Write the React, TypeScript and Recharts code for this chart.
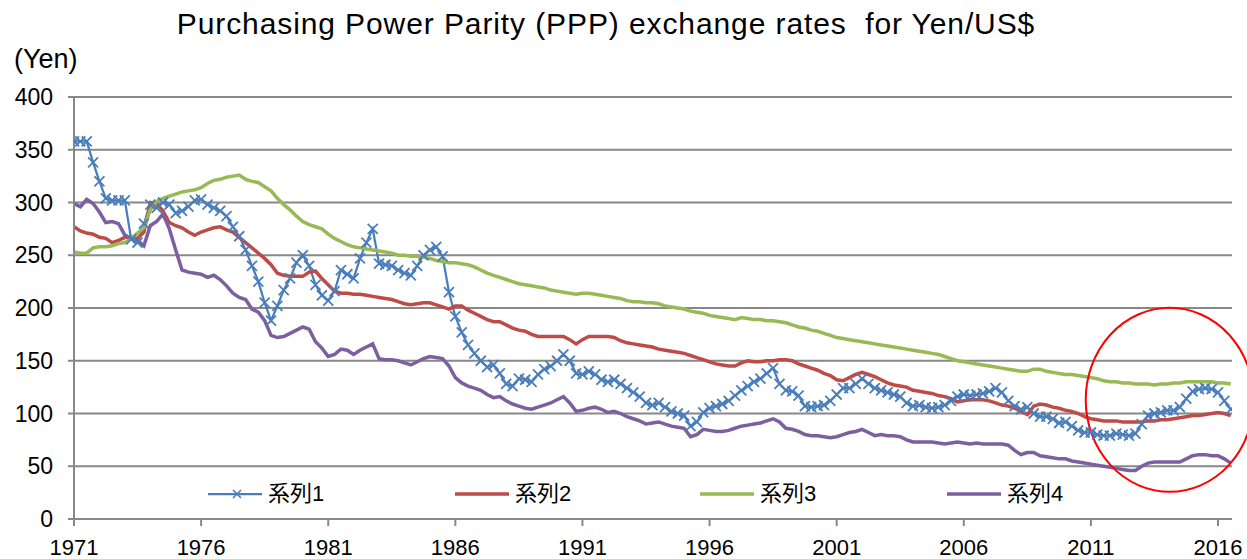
import { LineChart, Line, XAxis, YAxis, CartesianGrid, Legend, ReferenceDot } from "recharts"

const FONT = '"Liberation Sans", Arial, "Noto Sans CJK JP", sans-serif'
const COLORS = ["#4A7EBB", "#BE4B48", "#98B954", "#7D5FA0"]
const GRID = "#888888"

const START_YEAR = 1971
const seriesNames = ["系列1", "系列2", "系列3", "系列4"]
const xTicks = [1971, 1976, 1981, 1986, 1991, 1996, 2001, 2006, 2011, 2016]
const yTicks = [0, 50, 100, 150, 200, 250, 300, 350, 400]

// quarterly readings, 1971Q1 .. 2016Q3 (two years per row)
const series1 = [
  358, 358, 358, 338, 320, 304, 302, 302,
  302, 265, 262, 280, 298, 295, 300, 298,
  290, 292, 296, 302, 303, 298, 295, 292,
  287, 277, 268, 255, 240, 225, 205, 188,
  202, 217, 228, 243, 250, 240, 222, 212,
  207, 216, 236, 232, 228, 247, 262, 275,
  242, 241, 240, 236, 233, 231, 240, 250,
  255, 258, 249, 215, 192, 177, 165, 157,
  150, 144, 146, 138, 128, 126, 133, 132,
  130, 137, 142, 145, 150, 156, 150, 138,
  137, 140, 137, 132, 130, 132, 128, 124,
  120, 116, 110, 108, 110, 106, 102, 100,
  98, 88, 92, 101, 105, 107, 109, 112,
  117, 122, 126, 130, 133, 138, 143, 128,
  122, 121, 117, 107, 106, 107, 108, 112,
  118, 124, 124, 128, 133, 128, 124, 122,
  120, 118, 116, 110, 107, 108, 106, 105,
  106, 108, 112, 116, 118, 117, 118, 119,
  121, 124, 120, 112, 107, 104, 106, 100,
  97, 97, 95, 91, 92, 88, 84, 82,
  82, 80, 79, 79, 81, 80, 79, 81,
  90, 98, 100, 101, 103, 103, 106, 114,
  121, 123, 124, 123, 120, 112, 104,
]

const series2 = [
  277, 273, 271, 270, 267, 266, 262, 264,
  267, 267, 266, 272, 300, 299, 292, 281,
  278, 276, 272, 269, 272, 274, 276, 277,
  274, 272, 267, 262, 257, 252, 247, 241,
  233, 231, 230, 230, 230, 234, 235, 228,
  222, 216, 214, 214, 213, 213, 212, 211,
  210, 209, 208, 206, 204, 203, 204, 205,
  205, 203, 201, 199, 202, 202, 198, 195,
  192, 189, 187, 187, 184, 181, 179, 178,
  175, 173, 173, 173, 173, 173, 170, 166,
  170, 173, 173, 173, 173, 172, 169, 167,
  166, 165, 164, 163, 161, 160, 159, 158,
  157, 155, 153, 151, 149, 147, 146, 145,
  145, 148, 150, 149, 149, 150, 150, 151,
  151, 150, 147, 145, 143, 141, 138, 136,
  132, 131, 134, 137, 139, 137, 135, 132,
  129, 127, 126, 125, 122, 121, 120, 119,
  117, 116, 114, 111, 112, 113, 113, 113,
  112, 110, 108, 107, 105, 102, 99, 107,
  109, 108, 106, 105, 103, 102, 100, 97,
  95, 94, 93, 93, 93, 92, 92, 92,
  92, 93, 93, 94, 94, 95, 96, 97,
  98, 98, 99, 100, 101, 100, 98,
]

const series3 = [
  253, 252, 252, 257, 258, 258, 259, 261,
  262, 266, 271, 276, 293, 301, 304, 306,
  308, 310, 311, 312, 314, 318, 321, 322,
  324, 325, 326, 322, 320, 319, 315, 311,
  304, 298, 293, 287, 282, 279, 277, 275,
  270, 266, 263, 260, 258, 257, 256, 255,
  254, 253, 252, 250, 250, 249, 249, 248,
  247, 245, 244, 243, 243, 242, 241, 239,
  236, 233, 231, 229, 227, 225, 223, 222,
  221, 220, 219, 217, 216, 215, 214, 213,
  214, 214, 213, 212, 211, 210, 209, 207,
  206, 206, 205, 205, 204, 202, 201, 200,
  199, 197, 196, 195, 193, 192, 191, 190,
  189, 191, 190, 189, 189, 188, 188, 187,
  186, 184, 182, 181, 179, 178, 176, 174,
  172, 171, 170, 169, 168, 167, 166, 165,
  164, 163, 162, 161, 160, 159, 158, 157,
  156, 154, 152, 150, 149, 148, 147, 146,
  145, 144, 143, 142, 141, 140, 140, 142,
  142, 140, 139, 138, 137, 137, 136, 135,
  134, 133, 131, 130, 130, 129, 129, 128,
  128, 128, 127, 128, 128, 129, 129, 130,
  130, 130, 130, 130, 129, 129, 128,
]

const series4 = [
  299, 296, 303, 299, 291, 281, 282, 280,
  269, 266, 264, 259, 278, 282, 289, 275,
  255, 236, 234, 233, 232, 229, 231, 227,
  221, 214, 210, 208, 199, 196, 188, 174,
  172, 173, 176, 179, 182, 180, 168, 162,
  154, 156, 161, 160, 156, 160, 163, 166,
  152, 151, 151, 150, 148, 146, 149, 152,
  154, 153, 152, 145, 134, 129, 126, 124,
  122, 118, 115, 116, 112, 109, 107, 105,
  104, 106, 108, 110, 113, 116, 110, 102,
  103, 105, 106, 104, 101, 102, 100, 97,
  95, 93, 90, 91, 92, 90, 88, 87,
  86, 78, 80, 85, 84, 83, 83, 84,
  86, 88, 89, 90, 91, 93, 95, 92,
  86, 85, 83, 80, 79, 79, 78, 77,
  78, 80, 82, 83, 85, 82, 79, 80,
  79, 79, 78, 75, 73, 73, 73, 73,
  72, 71, 72, 73, 72, 71, 72, 71,
  71, 71, 71, 70, 65, 61, 63, 63,
  60, 59, 58, 57, 57, 55, 54, 53,
  52, 51, 50, 49, 48, 47, 46, 46,
  50, 53, 54, 54, 54, 54, 54, 57,
  60, 61, 61, 60, 60, 57, 53,
]

const data = series1.map((v, i) => ({
  year: START_YEAR + i / 4,
  s1: v,
  s2: series2[i],
  s3: series3[i],
  s4: series4[i],
}))

const LEGEND_X = [208, 455, 700, 947]

function crossPath(cx: number, cy: number, r: number) {
  return `M${cx - r},${cy - r}L${cx + r},${cy + r}M${cx - r},${cy + r}L${cx + r},${cy - r}`
}

function CrossDot(props: any) {
  const { cx, cy, index } = props
  if (cx == null || cy == null) return <g key={`c-${index}`} />
  return (
    <path
      key={`c-${index}`}
      d={crossPath(cx, cy, 5)}
      stroke={COLORS[0]}
      strokeWidth={1.8}
      fill="none"
    />
  )
}

function renderLegend() {
  return (
    <div style={{ position: "relative", width: 1247, height: 28, fontFamily: FONT, fontSize: 22 }}>
      {seriesNames.map((name, i) => (
        <div
          key={name}
          style={{
            position: "absolute",
            left: LEGEND_X[i],
            top: 0,
            height: 28,
            display: "flex",
            alignItems: "center",
          }}
        >
          <svg width={54} height={12}>
            <line x1={0} y1={6} x2={54} y2={6} stroke={COLORS[i]} strokeWidth={i === 0 ? 2.25 : 3.5} />
            {i === 0 && <path d={crossPath(29, 6, 4)} stroke={COLORS[0]} strokeWidth={1.6} fill="none" />}
          </svg>
          <span style={{ marginLeft: 6, color: "#000", lineHeight: "28px" }}>{name}</span>
        </div>
      ))}
    </div>
  )
}

export default function App() {
  return (
    <div
      style={{
        position: "absolute",
        left: 0,
        top: 0,
        width: 1247,
        height: 559,
        background: "#fff",
        fontFamily: FONT,
      }}
    >
      <div
        style={{
          position: "absolute",
          left: 0,
          top: 7,
          width: 1212,
          textAlign: "center",
          fontSize: 30,
          letterSpacing: 0.9,
          lineHeight: "34px",
          color: "#000",
          zIndex: 2,
        }}
      >
        Purchasing Power Parity (PPP) exchange rates&nbsp; for Yen/US$
      </div>
      <div
        style={{
          position: "absolute",
          left: 14,
          top: 44,
          fontSize: 27,
          lineHeight: "30px",
          color: "#000",
          zIndex: 2,
        }}
      >
        (Yen)
      </div>

      <LineChart width={1247} height={559} data={data} margin={{ top: 97, right: 15, bottom: 10, left: 0 }}>
        <CartesianGrid vertical={false} stroke={GRID} strokeWidth={2} />
        <XAxis
          dataKey="year"
          type="number"
          domain={[1971, 2016.55]}
          allowDataOverflow
          ticks={xTicks}
          interval={0}
          height={30}
          tickSize={7}
          tickMargin={13}
          stroke={GRID}
          strokeWidth={2}
          tick={{ fill: "#000", fontSize: 22, fontFamily: FONT }}
        />
        <YAxis
          domain={[0, 400]}
          ticks={yTicks}
          interval={0}
          width={74}
          tickSize={6}
          tickMargin={15}
          stroke={GRID}
          strokeWidth={2}
          tick={{ fill: "#000", fontSize: 23, fontFamily: FONT }}
        />
        <Legend
          layout="horizontal"
          verticalAlign="middle"
          align="center"
          content={renderLegend}
          wrapperStyle={{ left: 0, top: 480, width: 1247 }}
        />
        <Line
          dataKey="s1"
          name={seriesNames[0]}
          type="linear"
          stroke={COLORS[0]}
          strokeWidth={2.25}
          dot={(p: any) => <CrossDot {...p} key={`c-${p.index}`} />}
          isAnimationActive={false}
        />
        <Line
          dataKey="s2"
          name={seriesNames[1]}
          type="linear"
          stroke={COLORS[1]}
          strokeWidth={3.5}
          dot={false}
          isAnimationActive={false}
        />
        <Line
          dataKey="s3"
          name={seriesNames[2]}
          type="linear"
          stroke={COLORS[2]}
          strokeWidth={3.5}
          dot={false}
          isAnimationActive={false}
        />
        <Line
          dataKey="s4"
          name={seriesNames[3]}
          type="linear"
          stroke={COLORS[3]}
          strokeWidth={3.5}
          dot={false}
          isAnimationActive={false}
        />
        <ReferenceDot
          x={2014.1}
          y={113}
          r={0}
          ifOverflow="visible"
          shape={(p: any) => (
            <ellipse cx={p.cx} cy={p.cy} rx={84} ry={92} fill="none" stroke="#FF0000" strokeWidth={2} />
          )}
        />
      </LineChart>
    </div>
  )
}
